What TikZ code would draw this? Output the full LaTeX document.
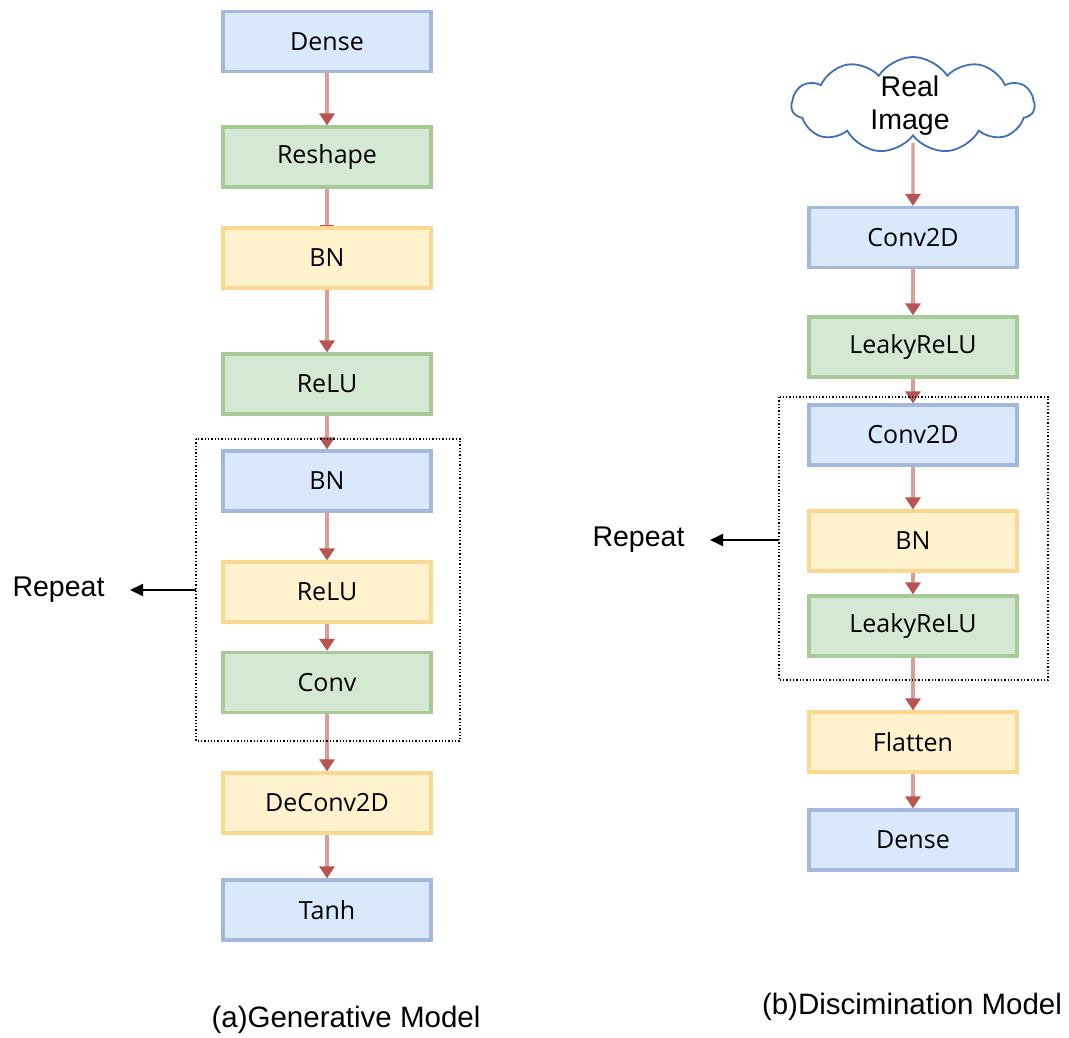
\documentclass[tikz,border=0pt]{standalone}
\usepackage{fontspec}
\setmainfont{Liberation Sans}
\newfontfamily\boxfont{Open Sans}
\usetikzlibrary{arrows.meta,shapes.symbols}

\definecolor{bluefill}{HTML}{DAE8FC}
\definecolor{bluedraw}{HTML}{A3B8DB}
\definecolor{greenfill}{HTML}{D5E8D4}
\definecolor{greendraw}{HTML}{A6CA98}
\definecolor{yellowfill}{HTML}{FFF2CC}
\definecolor{yellowdraw}{HTML}{FBD88F}
\definecolor{flowline}{HTML}{DC9C9A}
\definecolor{flowtip}{HTML}{B85450}
\definecolor{cloudline}{HTML}{3F6FB5}

\tikzset{
  layer/.style={rectangle, minimum width=208pt, minimum height=60pt, inner sep=0pt,
    line width=3.2pt, font=\boxfont\fontsize{25}{28}\selectfont},
  blue layer/.style={layer, fill=bluefill, draw=bluedraw},
  green layer/.style={layer, fill=greenfill, draw=greendraw},
  yellow layer/.style={layer, fill=yellowfill, draw=yellowdraw},
  flow/.style={draw=flowline, line width=3.4pt,
    -{Triangle[width=15pt,length=12pt,color=flowtip]}},
  flowbar/.style={draw=flowline, line width=3.4pt,
    -{Bar[width=14pt,line width=1.5pt,color=flowtip]}},
  group/.style={draw=black, line width=1.3pt, dotted},
  label text/.style={font=\fontsize{28.5}{33}\selectfont},
  caption text/.style={font=\fontsize{29.5}{34}\selectfont},
  repeat arrow/.style={line width=1.8pt, -{Triangle[width=12pt,length=13pt]}}
}

\begin{document}
\begin{tikzpicture}[x=1pt,y=-1pt]
\useasboundingbox (0,0) rectangle (1069,1038);

% Generator column
\node[blue layer]   (gdense)   at (327,41.5)  {Dense};
\node[green layer]  (greshape) at (327,157)   {Reshape};
\node[yellow layer] (gbn)      at (327,258)   {BN};
\node[green layer]  (grelu)    at (327,384)   {ReLU};
\node[blue layer]   (gbn2)     at (327,481)   {BN};
\node[yellow layer] (grelu2)   at (327,592)   {ReLU};
\node[green layer]  (gconv)    at (327,682.5) {Conv};
\node[yellow layer] (gdeconv)  at (327,803)   {DeConv2D};
\node[blue layer]   (gtanh)    at (327,910)   {Tanh};

\draw[flow]    (gdense)   -- (greshape);
\draw[flowbar] (greshape) -- (gbn);
\draw[flow]    (gbn)      -- (grelu);
\draw[flow]    (grelu)    -- (gbn2);
\draw[flow]    (gbn2)     -- (grelu2);
\draw[flow]    (grelu2)   -- (gconv);
\draw[flow]    (gconv)    -- (gdeconv);
\draw[flow]    (gdeconv)  -- (gtanh);

\draw[group] (196,439) rectangle (460,741);
\coordinate (grepfrom) at (196,590);
\node[label text, anchor=east] (grepeat) at (108,590) {Repeat};
\draw[repeat arrow] (grepfrom) -- (130,590);

% Discriminator column
\node[cloud, cloud puffs=11, cloud puff arc=115, aspect=2.5, draw=cloudline,
      line width=1.8pt, minimum width=243pt, minimum height=96pt, inner sep=0pt]
      (dimage) at (913,105) {};
\node[align=center, label text, inner sep=0pt] (dimagetext) at (910,106) {Real\\Image};
\node[blue layer]   (dconv)   at (913,237.5) {Conv2D};
\node[green layer]  (dleaky)  at (913,347)   {LeakyReLU};
\node[blue layer]   (dconv2)  at (913,435)   {Conv2D};
\node[yellow layer] (dbn)     at (913,541)   {BN};
\node[green layer]  (dleaky2) at (913,626)   {LeakyReLU};
\node[yellow layer] (dflat)   at (913,742)   {Flatten};
\node[blue layer]   (ddense)  at (913,840)   {Dense};

\draw[flow] (dimage.south) ++(0,6) -- (dconv);
\draw[flow] (dconv)   -- (dleaky);
\draw[flow] (dleaky)  -- (dconv2);
\draw[flow] (dconv2)  -- (dbn);
\draw[flow] (dbn)     -- (dleaky2);
\draw[flow] (dleaky2) -- (dflat);
\draw[flow] (dflat)   -- (ddense);

\draw[group] (779,397) rectangle (1048,680);
\coordinate (drepfrom) at (779,540);
\node[label text, anchor=east] (drepeat) at (688,540) {Repeat};
\draw[repeat arrow] (drepfrom) -- (710,540);

% Captions
\node[caption text] (gcap) at (346,1020) {(a)Generative Model};
\node[caption text] (dcap) at (912,1007) {(b)Discimination Model};
\end{tikzpicture}
\end{document}
